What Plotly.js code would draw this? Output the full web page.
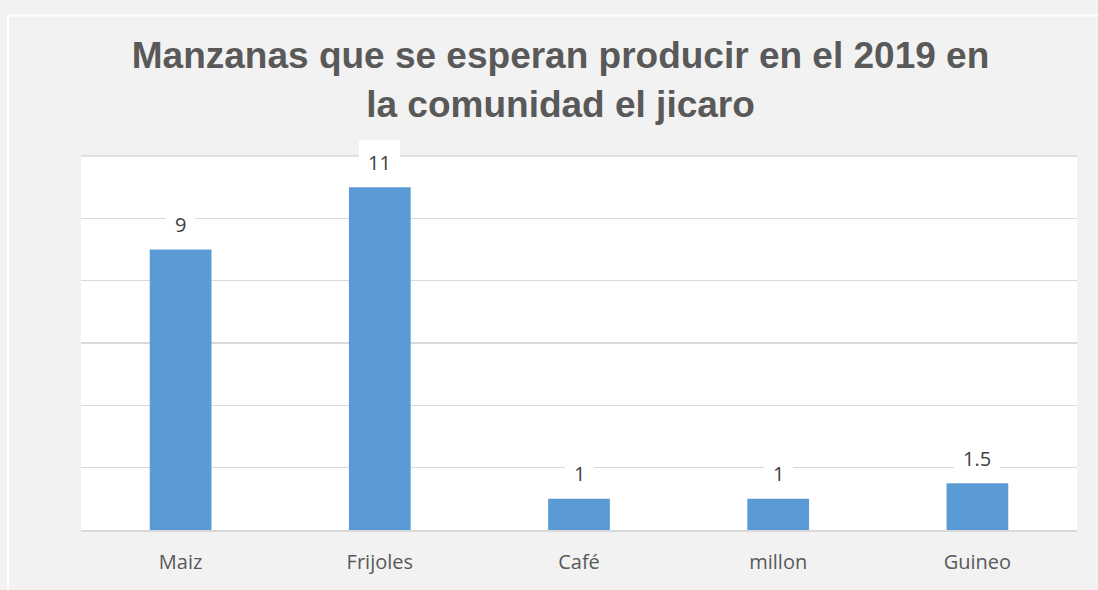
<!DOCTYPE html>
<html>
<head>
<meta charset="utf-8">
<script src="https://cdn.plot.ly/plotly-3.0.1.min.js"></script>
<style>html,body{margin:0;padding:0;background:#f2f2f2;}#chart{width:1098px;height:590px;}</style>
</head>
<body>
<div id="chart"></div>
<script>
const categories = ["Maiz", "Frijoles", "Café", "millon", "Guineo"];
const values = [9, 11, 1, 1, 1.5];
const labels = ["9", "11", "1", "1", "1.5"];

const trace = {
  type: "bar",
  x: categories,
  y: values,
  marker: {color: "#5b9bd5", line: {width: 0}},
  hoverinfo: "x+y"
};

const annotations = categories.map((c, i) => ({
  x: c, y: values[i], xref: "x", yref: "y",
  text: labels[i], showarrow: false,
  yanchor: "middle", yshift: 25,
  bgcolor: "#ffffff", bordercolor: "#ffffff", borderwidth: 1, borderpad: 8,
  font: {family: "Open Sans, sans-serif", size: 20, color: "#404040"}
}));

const layout = {
  width: 1098, height: 590,
  margin: {l: 81, r: 21, t: 156, b: 60},
  paper_bgcolor: "#f2f2f2",
  plot_bgcolor: "#ffffff",
  bargap: 0.69,
  showlegend: false,
  title: {
    text: "Manzanas que se esperan producir en el 2019 en<br>la comunidad el jicaro",
    font: {family: "Liberation Sans, Arial, sans-serif", size: 37, color: "#595959", weight: "bold"},
    x: 0.5105, xanchor: "center", y: 0.884, yanchor: "top"
  },
  xaxis: {
    type: "category",
    showgrid: false, zeroline: false,
    showline: true, linecolor: "#d9d9d9", linewidth: 2,
    ticks: "", ticklabelstandoff: 13,
    tickfont: {family: "Open Sans, sans-serif", size: 20, color: "#595959"},
    fixedrange: true
  },
  yaxis: {
    range: [0, 12], dtick: 2, tick0: 0,
    showgrid: true, gridcolor: "#d9d9d9", gridwidth: 1.5,
    showticklabels: false, zeroline: false, showline: false, ticks: "",
    fixedrange: true
  },
  annotations: annotations,
  shapes: [
    {
      type: "rect", xref: "paper", yref: "paper",
      x0: -0.0733, x1: 1.1, y0: -0.2, y1: 1.3757,
      line: {color: "#ffffff", width: 2}, layer: "below"
    },
    {
      type: "line", xref: "paper", yref: "paper",
      x0: 0, x1: 1, y0: 1, y1: 1,
      line: {color: "#d9d9d9", width: 1.5}, layer: "above"
    }
  ]
};

Plotly.newPlot("chart", [trace], layout, {displayModeBar: false, staticPlot: true});
</script>
</body>
</html>
